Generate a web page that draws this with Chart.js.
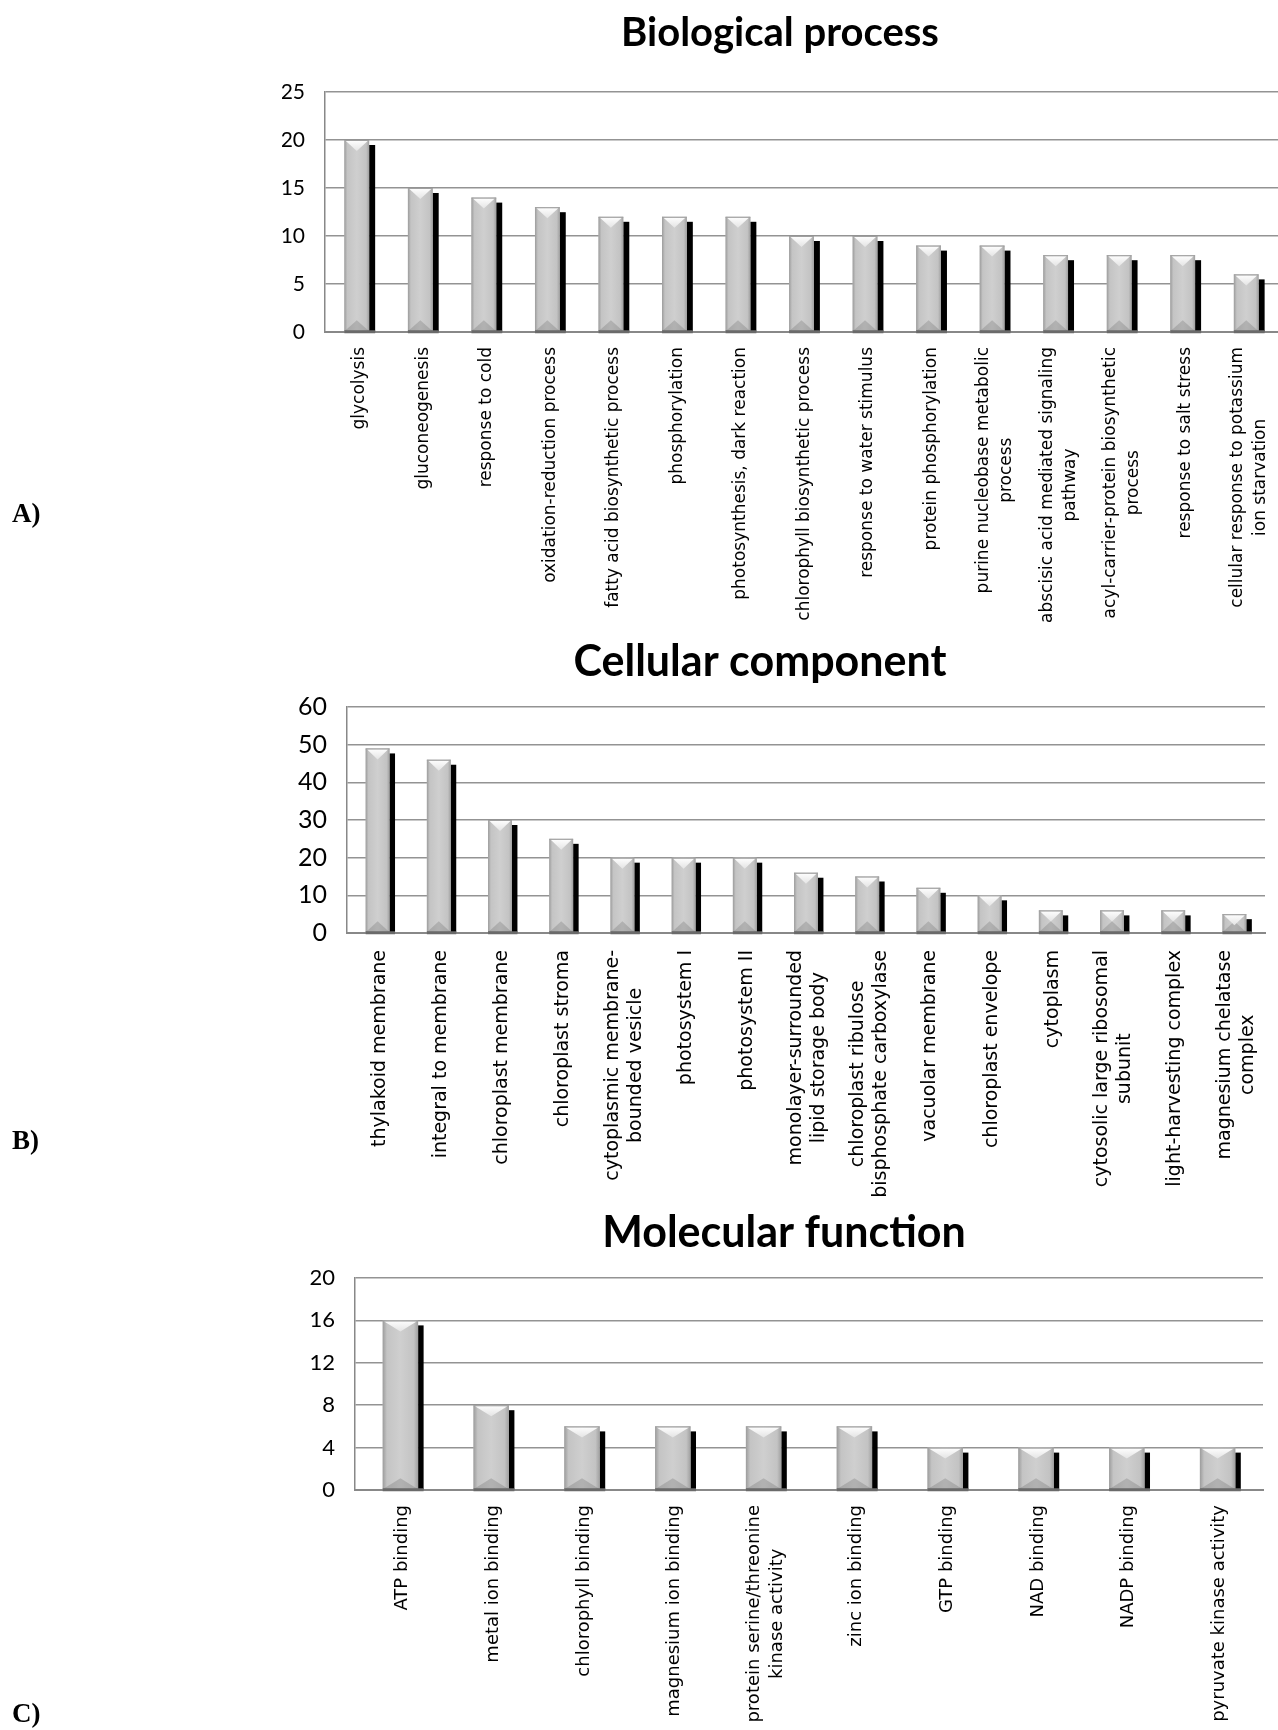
<!DOCTYPE html>
<html><head><meta charset="utf-8">
<script src="https://cdn.jsdelivr.net/npm/chart.js@4.4.1/dist/chart.umd.min.js"></script>
<style>
html,body{margin:0;padding:0;background:#fff;}
body{width:1278px;height:1730px;position:relative;overflow:hidden;}
canvas{position:absolute;left:0;}
.pl{position:absolute;left:12px;font-family:'Liberation Serif','Times New Roman',serif;font-weight:bold;font-size:27px;line-height:30px;color:#000;}
</style></head><body>
<canvas id="cA" width="1278" height="630" style="top:0px;width:1278px;height:630px"></canvas>
<canvas id="cB" width="1278" height="600" style="top:615px;width:1278px;height:600px"></canvas>
<canvas id="cC" width="1278" height="550" style="top:1180px;width:1278px;height:550px"></canvas>
<div class="pl" style="top:498px">A)</div>
<div class="pl" style="top:1125px">B)</div>
<div class="pl" style="top:1698px">C)</div>
<script>
// ---------- DATA ----------
const bpTitle = 'Biological process';
const bpLabels = [
  'glycolysis', 'gluconeogenesis', 'response to cold', 'oxidation-reduction process',
  'fatty acid biosynthetic process', 'phosphorylation', 'photosynthesis, dark reaction',
  'chlorophyll biosynthetic process', 'response to water stimulus', 'protein phosphorylation',
  ['purine nucleobase metabolic', 'process'], ['abscisic acid mediated signaling', 'pathway'],
  ['acyl-carrier-protein biosynthetic', 'process'], 'response to salt stress',
  ['cellular response to potassium', 'ion starvation']
];
const bpValues = [20, 15, 14, 13, 12, 12, 12, 10, 10, 9, 9, 8, 8, 8, 6];
const bpTicks = [0, 5, 10, 15, 20, 25];

const ccTitle = 'Cellular component';
const ccLabels = [
  'thylakoid membrane', 'integral to membrane', 'chloroplast membrane', 'chloroplast stroma',
  ['cytoplasmic membrane-', 'bounded vesicle'], 'photosystem I', 'photosystem II',
  ['monolayer-surrounded', 'lipid storage body'], ['chloroplast ribulose', 'bisphosphate carboxylase'],
  'vacuolar membrane', 'chloroplast envelope', 'cytoplasm',
  ['cytosolic large ribosomal', 'subunit'], 'light-harvesting complex',
  ['magnesium chelatase', 'complex']
];
const ccValues = [49, 46, 30, 25, 20, 20, 20, 16, 15, 12, 10, 6, 6, 6, 5];
const ccTicks = [0, 10, 20, 30, 40, 50, 60];

const mfTitle = 'Molecular function';
const mfLabels = [
  'ATP binding', 'metal ion binding', 'chlorophyll binding', 'magnesium ion binding',
  ['protein serine/threonine', 'kinase activity'], 'zinc ion binding', 'GTP binding',
  'NAD binding', 'NADP binding', 'pyruvate kinase activity'
];
const mfValues = [16, 8, 6, 6, 6, 6, 4, 4, 4, 4];
const mfTicks = [0, 4, 8, 12, 16, 20];

// ---------- STYLE / PLUGINS ----------
const FONT = "Lato, 'Liberation Sans', sans-serif";

const bar3d = {
  id: 'bar3d',
  afterDatasetsDraw(chart, args, opts) {
    const ctx = chart.ctx;
    ctx.save();
    chart.getDatasetMeta(0).data.forEach(el => {
      const {x, y, base, width} = el.getProps(['x', 'y', 'base', 'width'], true);
      const l = x - width / 2, r = x + width / 2, h = base - y;
      ctx.fillStyle = '#000';
      ctx.fillRect(r, y + opts.off, opts.sw, h - opts.off);
      const g = ctx.createLinearGradient(l, 0, r, 0);
      g.addColorStop(0, '#9c9c9c'); g.addColorStop(0.12, '#c4c4c4');
      g.addColorStop(0.5, '#cfcfcf'); g.addColorStop(0.88, '#c3c3c3'); g.addColorStop(1, '#a0a0a0');
      ctx.fillStyle = g;
      ctx.fillRect(l, y, width, h);
      ctx.fillStyle = 'rgba(0,0,0,0.14)';
      ctx.beginPath(); ctx.moveTo(l, base); ctx.lineTo(r, base); ctx.lineTo(x, base - 11); ctx.closePath(); ctx.fill();
      const tg = ctx.createLinearGradient(0, y, 0, y + 11);
      tg.addColorStop(0, '#ffffff'); tg.addColorStop(1, '#e4e4e4');
      ctx.fillStyle = tg;
      ctx.beginPath(); ctx.moveTo(l + 1.5, y + 1); ctx.lineTo(r - 1.5, y + 1); ctx.lineTo(x, y + 11); ctx.closePath(); ctx.fill();
      ctx.strokeStyle = '#a0a0a0'; ctx.lineWidth = 1;
      ctx.beginPath(); ctx.moveTo(l, y + 0.5); ctx.lineTo(r, y + 0.5); ctx.stroke();
      ctx.fillStyle = '#6a6a6a';
      ctx.fillRect(l, base - 1, width + opts.sw, 3);
    });
    ctx.restore();
  }
};

const catLabels = {
  id: 'catLabels',
  afterDraw(chart, args, opts) {
    const sx = chart.scales.x, ctx = chart.ctx;
    ctx.save();
    ctx.fillStyle = '#000';
    ctx.font = opts.size + "px 'DejaVu Sans', sans-serif";
    chart.data.labels.forEach((lab, i) => {
      const lines = Array.isArray(lab) ? lab : [lab];
      const w = Math.max(...lines.map(t => ctx.measureText(t).width));
      const px = sx.getPixelForValue(i) + opts.dx;
      ctx.save();
      ctx.translate(px, sx.top + opts.pad);
      ctx.rotate(-Math.PI / 2);
      ctx.textAlign = 'center';
      ctx.textBaseline = 'middle';
      lines.forEach((t, j) => ctx.fillText(t, -w / 2, (j - (lines.length - 1) / 2) * opts.lh));
      ctx.restore();
    });
    ctx.restore();
  }
};

function makeChart(id, title, labels, values, ticks, o) {
  return new Chart(document.getElementById(id), {
    type: 'bar',
    data: {
      labels: labels,
      datasets: [{ data: values, backgroundColor: '#c8c8c8', borderWidth: 0, barPercentage: 0.39, categoryPercentage: 1 }]
    },
    options: {
      responsive: false,
      animation: false,
      devicePixelRatio: 1,
      layout: { padding: { left: o.pl, right: o.pr, top: 0, bottom: 0 } },
      plugins: {
        legend: { display: false },
        tooltip: { enabled: false },
        title: {
          display: true, text: title, color: '#000',
          font: { family: FONT, size: o.ts, weight: 'bold', lineHeight: 1.2 },
          padding: { top: o.tpt, bottom: o.tpb }
        },
        bar3d: { off: 5, sw: o.sw },
        catLabels: { size: o.ls, lh: 23, pad: o.lpad, dx: o.ldx }
      },
      scales: {
        x: {
          grid: { display: false, drawTicks: false },
          border: { display: true, color: '#888888', width: 2 },
          ticks: { display: false },
          afterFit: s => { s.height = o.xh; }
        },
        y: {
          min: 0, max: ticks[ticks.length - 1],
          grid: { color: '#939393', lineWidth: 1.5, drawTicks: false },
          border: { display: true, color: '#888888', width: 1.5 },
          ticks: { color: '#000', padding: 20, font: { family: FONT, size: o.ys } },
          afterBuildTicks: s => { s.ticks = ticks.map(v => ({ value: v })); },
          afterFit: s => { s.width = o.yw; }
        }
      }
    },
    plugins: [bar3d, catLabels]
  });
}

makeChart('cA', bpTitle, bpLabels, bpValues, bpTicks,
  { pl: 282, pr: 0, ts: 40, tpt: 9, tpb: 35, yw: 43, xh: 298, ys: 21, ls: 17, lpad: 15, ldx: 3, sw: 6 });
makeChart('cB', ccTitle, ccLabels, ccValues, ccTicks,
  { pl: 255, pr: 13, ts: 43, tpt: 21, tpb: 19.4, yw: 92, xh: 282, ys: 25, ls: 19, lpad: 17, ldx: 2, sw: 5.5 });
makeChart('cC', mfTitle, mfLabels, mfValues, mfTicks,
  { pl: 305, pr: 15, ts: 43, tpt: 27, tpb: 19.4, yw: 50, xh: 240, ys: 22, ls: 18, lpad: 15, ldx: 2, sw: 5.5 });
</script>
</body></html>
